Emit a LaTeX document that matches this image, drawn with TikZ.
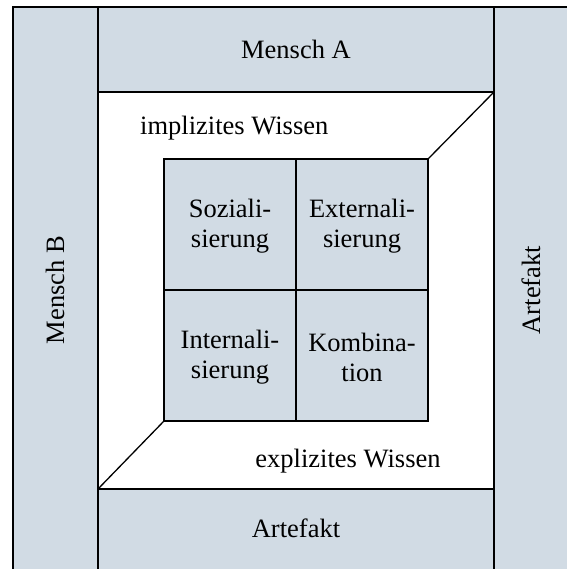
\documentclass[tikz,border=0pt]{standalone}
\usepackage{fontspec}
\setmainfont{Liberation Serif}
\definecolor{panel}{RGB}{209,219,228}
\tikzset{
  frame/.style={draw=black, line width=1.6pt},
  thin/.style={draw=black, line width=1.3pt},
  label/.style={font=\fontsize{26.5}{30}\selectfont, inner sep=0pt, align=center},
}
\begin{document}
\begin{tikzpicture}[x=1pt, y=-1pt]
  \useasboundingbox (0,0) rectangle (567,569);
  % shaded frame and white centre field
  \fill[panel] (13,7) rectangle (567,569);
  \fill[white] (98,92) rectangle (494,489);
  % outer borders
  \draw[frame] (13,569) -- (13,7) -- (567,7);
  \draw[frame] (98,7) -- (98,569);
  \draw[frame] (494,7) -- (494,569);
  \draw[thin] (98,92) -- (494,92);
  \draw[thin] (98,489) -- (494,489);
  % central square with four fields
  \fill[panel] (164,159) rectangle (428,421);
  \draw[thin] (164,159) rectangle (428,421);
  \draw[thin] (296,159) -- (296,421);
  \draw[thin] (164,290) -- (428,290);
  % perspective edges
  \draw[thin] (494,92) -- (428,159);
  \draw[thin] (98,489) -- (164,421);
  % labels
  \node[label] (ma) at (296,49) {Mensch A};
  \node[label] (ab) at (296,528) {Artefakt};
  \node[label, rotate=90] (mb) at (55,290) {Mensch B};
  \node[label, rotate=90] (ar) at (531,290) {Artefakt};
  \node[label, anchor=west] (iw) at (140,128) {implizites Wissen};
  \node[label] (ew) at (348,461) {explizites Wissen};
  \node[label] (soz) at (230,226) {Soziali-\\sierung};
  \node[label] (ext) at (362,226) {Externali-\\sierung};
  \node[label] (int) at (230,357) {Internali-\\sierung};
  \node[label] (kom) at (362,357) {Kombina-\\tion};
\end{tikzpicture}
\end{document}
